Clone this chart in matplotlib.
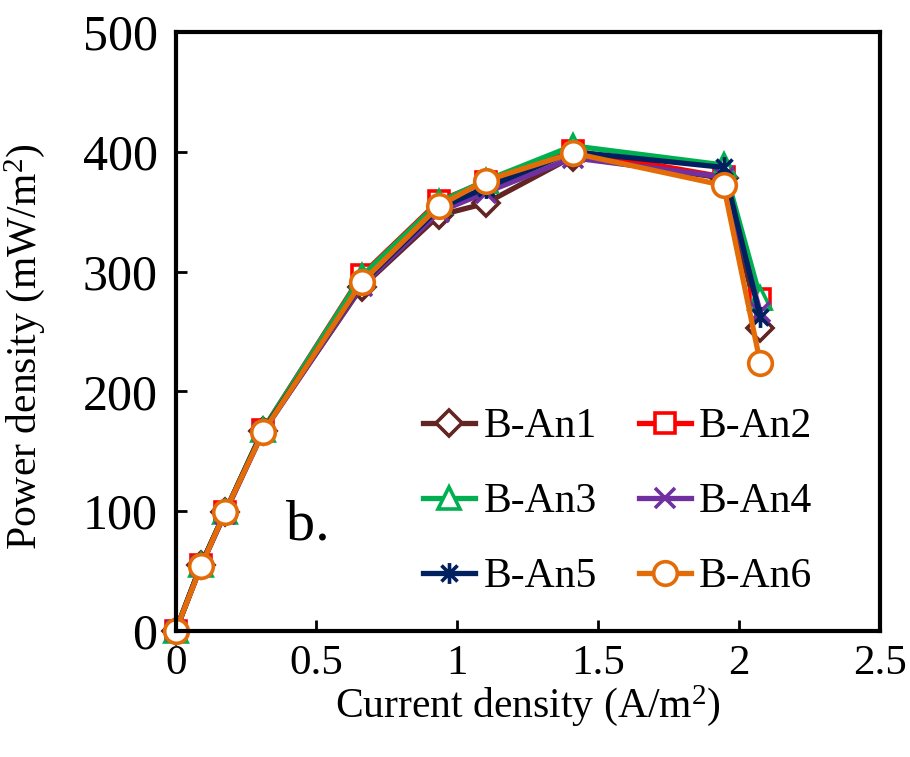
import matplotlib
matplotlib.use('Agg')
import matplotlib.pyplot as plt
from matplotlib.path import Path

plt.rcParams['font.family'] = ['Liberation Serif', 'DejaVu Serif']
plt.rcParams['mathtext.fontset'] = 'custom'
plt.rcParams['mathtext.rm'] = 'Liberation Serif'
plt.rcParams['mathtext.default'] = 'regular'

# current density (A/m2)
current = [0, 0.09, 0.175, 0.31, 0.66, 0.935, 1.10, 1.41, 1.945, 2.075]
# power density (mW/m2)
an1 = [0, 55, 99, 167, 287, 347, 357, 396, 378, 253]
an2 = [0, 55, 99, 168, 297, 359, 375, 401, 379, 277]
an3 = [0, 55, 99, 168, 296, 358, 376, 405, 389, 278]
an4 = [0, 54, 98, 166, 288, 350, 366, 395, 379, 266]
an5 = [0, 55, 99, 167, 290, 353, 370, 400, 387, 262]
an6 = [0, 54, 99, 166, 291, 355, 376, 399, 372, 224]
names = ['B-An1', 'B-An2', 'B-An3', 'B-An4', 'B-An5', 'B-An6']

# asterisk marker: x plus vertical bar
star = Path([(-1, -1), (1, 1), (-1, 1), (1, -1), (0, -1.3), (0, 1.3)],
            [Path.MOVETO, Path.LINETO, Path.MOVETO, Path.LINETO, Path.MOVETO, Path.LINETO])

styles = [
    ('#632523', 'D', 13),
    ('#FF0000', 's', 15),
    ('#00B050', '^', 16),
    ('#7030A0', 'x', 15),
    ('#002060', star, 15),
    ('#E36C09', 'o', 17),
]
series = [an1, an2, an3, an4, an5, an6]

fig = plt.figure(figsize=(9.1, 7.57), dpi=100)
ax = fig.add_axes([0.193, 0.1664, 0.774, 0.7913])

handles = []
for vals, name, (c, m, ms) in zip(series, names, styles):
    h, = ax.plot(current, vals, color=c, lw=3.8, marker=m, ms=ms,
                 mfc='white', mec=c, mew=2.6, label=name, clip_on=False)
    handles.append(h)

ax.set_xlim(0, 2.5)
ax.set_ylim(0, 500)
ax.set_xticks([0, 0.5, 1, 1.5, 2, 2.5])
ax.set_xticklabels(['0', '0.5', '1', '1.5', '2', '2.5'])
ax.set_yticks([0, 100, 200, 300, 400, 500])
ax.tick_params(direction='in', length=8, width=2)
ax.tick_params(axis='x', labelsize=31, pad=10)
ax.tick_params(axis='y', labelsize=36, pad=13)
for s in ax.spines.values():
    s.set_linewidth(3)

ax.set_xlabel('Current density (A/m$^{2}$)', fontsize=30, labelpad=0)
ax.set_ylabel('Power density (mW/m$^{2}$)', fontsize=30)
ax.yaxis.set_label_coords(-0.183, 0.474)

ax.text(0.39, 88, 'b.', fontsize=42, ha='left', va='center')

order = [0, 2, 4, 1, 3, 5]
ax.legend([handles[i] for i in order], [names[i] for i in order], ncol=2,
          loc='lower left', bbox_to_anchor=(0.322, 0.023), frameon=False,
          fontsize=30, handlelength=1.25, handletextpad=0.2,
          columnspacing=1.0, labelspacing=0.88, borderpad=0)

fig.savefig('out.png', dpi=100)
